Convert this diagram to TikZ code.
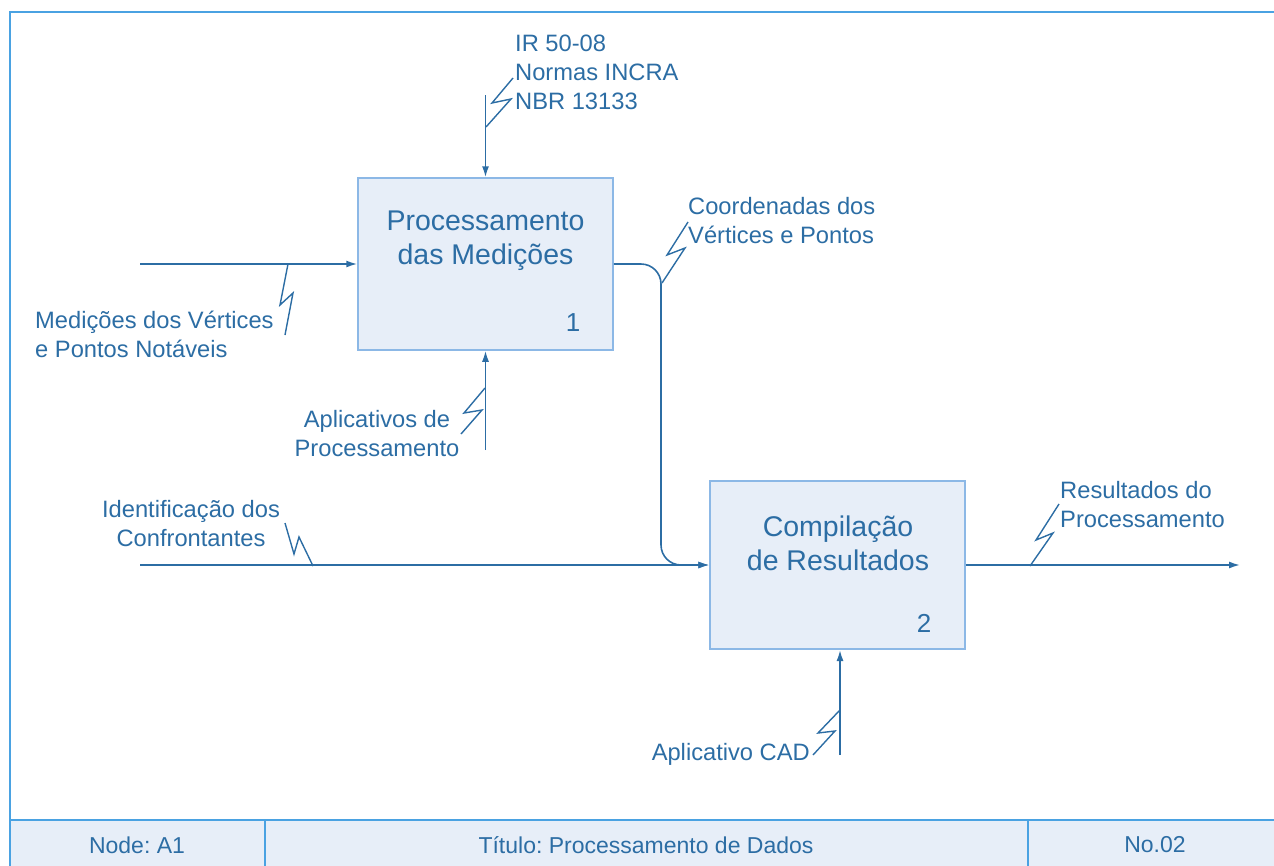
\documentclass[tikz,border=0pt]{standalone}
\usepackage{fontspec}
\setmainfont{Liberation Sans}
\usetikzlibrary{arrows.meta}
\frenchspacing
\definecolor{ink}{HTML}{2C6DA4}
\definecolor{frameblue}{HTML}{4AA2E2}
\definecolor{boxedge}{HTML}{8CB8E6}
\definecolor{boxfill}{HTML}{E7EEF8}
\tikzset{
  actbox/.style={draw=boxedge, fill=boxfill, line width=1.5pt,
    minimum width=255, minimum height=170, inner sep=0pt},
  boxtitle/.style={text=ink, font=\fontsize{28.5}{34}\selectfont, align=center},
  lbl/.style={text=ink, font=\fontsize{23.7}{29}\selectfont, inner sep=0pt},
  flow/.style={draw=ink, line width=1.6pt, -{Latex[length=11,width=7]}},
  zig/.style={draw=ink, line width=1.4pt, line join=miter},
  bartext/.style={text=ink, font=\fontsize{23}{27}\selectfont}
}
\begin{document}
\begin{tikzpicture}[x=1pt,y=-1pt]
\useasboundingbox (0,0) rectangle (1274,865);

% outer frame and title bar
\fill[boxfill] (10,820) rectangle (1280,870);
\draw[frameblue, line width=2.5pt] (10,875) -- (10,12) -- (1280,12);
\draw[frameblue, line width=2pt] (10,820) -- (1280,820);
\draw[frameblue, line width=1.2pt] (265,820) -- (265,870) (1028,820) -- (1028,870);
\node[bartext] (barnode) at (137,845) {Node: A1};
\node[bartext] (bartitle) at (646,845) {Título: Processamento de Dados};
\node[bartext] (barno) at (1155,845) {No.02};

% activity boxes
\node[actbox, minimum height=172] (b1) at (485.5,264) {};
\node[boxtitle] (t1) at (485.5,241) {Processamento\\das Medições};
\node[text=ink, font=\fontsize{26}{30}\selectfont] (n1) at (573,323) {1};

\node[actbox, minimum height=168] (b2) at (837.5,565) {};
\node[boxtitle] (t2) at (838,543) {Compilação\\de Resultados};
\node[text=ink, font=\fontsize{26}{30}\selectfont] (n2) at (924,623) {2};

% free ends of the arrows
\coordinate (ctl1) at (485.5,95);
\coordinate (in1) at (140,264);
\coordinate (mec1) at (485.5,450);
\coordinate (in2) at (140,565);
\coordinate (out2) at (1240,565);
\coordinate (mec2) at (840,755);

% arrows
\draw[flow] (ctl1) -- (b1.north);
\draw[flow] (in1) -- (b1.west);
\draw[flow] (mec1) -- (b1.south);
\draw[flow] (in2) -- (b2.west);
\draw[flow, rounded corners=20] (b1.east) -- (661,264) -- (661,565) -- (b2.west);
\draw[flow] (b2.east) -- (out2);
\draw[flow] (mec2) -- (840,650);

% labels
\node[lbl, anchor=north west, align=left] (lctl) at (515,35) {IR 50-08\\Normas INCRA\\NBR 13133};
\node[lbl, anchor=north west, align=left] (lin1) at (35,311) {Medições dos Vértices\\e Pontos Notáveis};
\node[lbl, anchor=north, align=center] (lmec1) at (377,410) {Aplicativos de\\Processamento};
\node[lbl, anchor=north west, align=left] (lout1) at (688,197) {Coordenadas dos\\Vértices e Pontos};
\node[lbl, anchor=north, align=center] (lin2) at (191,500) {Identificação dos\\Confrontantes};
\node[lbl, anchor=north west, align=left] (lout2) at (1060,481) {Resultados do\\Processamento};
\node[lbl, anchor=north east, align=right] (lmec2) at (810,743) {Aplicativo CAD};

% squiggles tying labels to arrows
\draw[zig] (486,127) -- (511,99) -- (492,103) -- (513,78);
\draw[zig] (288,264) -- (280,305) -- (293,293) -- (285,335);
\draw[zig] (662,283) -- (685,248) -- (667,255) -- (688,222);
\draw[zig] (485,388) -- (464,413) -- (482,410) -- (461,434);
\draw[zig] (285,523) -- (294,554) -- (299,537) -- (313,566);
\draw[zig] (1030,566) -- (1053,533) -- (1036,540) -- (1059,504);
\draw[zig] (840,710) -- (818,733) -- (835,731) -- (813,755);
\end{tikzpicture}
\end{document}
